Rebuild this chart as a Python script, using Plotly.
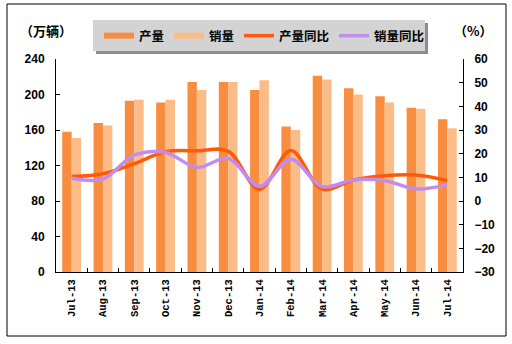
import plotly.graph_objects as go

months = ["Jul-13", "Aug-13", "Sep-13", "Oct-13", "Nov-13", "Dec-13", "Jan-14",
          "Feb-14", "Mar-14", "Apr-14", "May-14", "Jun-14", "Jul-14"]
production = [158, 168, 193, 191, 214, 214, 205, 164, 221, 207, 198, 185, 172]
sales = [151, 165, 194, 194, 205, 214, 216, 160, 217, 200, 191, 184, 162]
prod_yoy = [10.3, 11.5, 15.8, 20.8, 21.2, 21.0, 4.9, 21.3, 5.0, 8.9, 10.7, 11.0, 8.6]
sales_yoy = [9.6, 9.3, 19.4, 20.5, 14.2, 18.0, 6.2, 17.6, 6.1, 8.9, 8.6, 5.1, 6.8]

C_PROD = "#F98D3F"
C_SALES = "#FBBC88"
C_PYOY = "#FF5A0A"
C_SYOY = "#C08CF0"

L, R, T, B = 56, 49, 59, 72
W, H = 512, 344
PW, PH = W - L - R, H - T - B

def px(x):
    return (x - L) / PW

def py(y):
    return (H - B - y) / PH

fig = go.Figure()
fig.add_bar(x=months, y=production, name="产量", marker_color=C_PROD,
            marker_line_width=0, showlegend=False)
fig.add_bar(x=months, y=sales, name="销量", marker_color=C_SALES,
            marker_line_width=0, showlegend=False)
fig.add_scatter(x=months, y=prod_yoy, name="产量同比", yaxis="y2", mode="lines",
                line=dict(color=C_PYOY, width=3.5, shape="spline", smoothing=1.0),
                showlegend=False)
fig.add_scatter(x=months, y=sales_yoy, name="销量同比", yaxis="y2", mode="lines",
                line=dict(color=C_SYOY, width=3.5, shape="spline", smoothing=1.0),
                showlegend=False)

# legend entries (line symbols like the original)
for name, col, wd in [("产量", C_PROD, 6), ("销量", C_SALES, 6),
                      ("产量同比", C_PYOY, 3.5), ("销量同比", C_SYOY, 3.5)]:
    fig.add_scatter(x=[None], y=[None], mode="lines", name=name,
                    line=dict(color=col, width=wd), yaxis="y2")

yfont = dict(family="Liberation Sans", size=12, color="black", weight="bold")

fig.update_layout(
    width=W, height=H,
    margin=dict(l=L, r=R, t=T, b=B),
    paper_bgcolor="white", plot_bgcolor="white",
    barmode="group", bargap=0.4, bargroupgap=0,
    xaxis=dict(type="category", showline=True, linecolor="black", linewidth=1,
               ticks="inside", ticklen=4, tickcolor="black", tickson="boundaries",
               tickangle=-90, ticklabelstandoff=2,
               tickfont=dict(family="Liberation Mono", size=10.5, color="black", weight="bold"),
               showgrid=False, zeroline=False),
    yaxis=dict(range=[0, 240], dtick=40, showline=True, linecolor="black", linewidth=1,
               ticks="inside", ticklen=4, tickcolor="black", ticklabelstandoff=8,
               tickfont=yfont, showgrid=False, zeroline=False),
    yaxis2=dict(range=[-30, 60], dtick=10, overlaying="y", side="right",
                showline=True, linecolor="black", linewidth=1,
                ticks="inside", ticklen=4, tickcolor="black", ticklabelstandoff=8,
                tickfont=yfont, showgrid=False, zeroline=False),
    legend=dict(orientation="h", x=px(99), y=py(21), xanchor="left", yanchor="top",
                bgcolor="rgba(0,0,0,0)", borderwidth=0,
                font=dict(family="Noto Sans CJK SC", size=12.5, color="black", weight="bold"),
                itemwidth=30, traceorder="normal", tracegroupgap=0),
    showlegend=True,
    shapes=[
        dict(type="rect", xref="paper", yref="paper", x0=px(7), x1=px(506), y0=py(336), y1=py(4),
             line=dict(color="black", width=1), fillcolor="rgba(0,0,0,0)", layer="below"),
        dict(type="rect", xref="paper", yref="paper", x0=px(96), x1=px(428), y0=py(54), y1=py(23),
             line=dict(width=0), fillcolor="#8C8C8C", layer="above"),
        dict(type="rect", xref="paper", yref="paper", x0=px(93), x1=px(425), y0=py(51), y1=py(20),
             line=dict(width=0), fillcolor="#D3D3D3", layer="above"),
    ],
    annotations=[
        dict(text="（万辆）", xref="paper", yref="paper", x=px(18), y=py(30), xanchor="left",
             yanchor="middle", showarrow=False,
             font=dict(family="Noto Sans CJK SC", size=13, color="black", weight="bold")),
        dict(text="（%）", xref="paper", yref="paper", x=px(452), y=py(30), xanchor="left",
             yanchor="middle", showarrow=False,
             font=dict(family="Noto Sans CJK SC", size=13, color="black", weight="bold")),
    ],
)

fig.write_html("out.html")
